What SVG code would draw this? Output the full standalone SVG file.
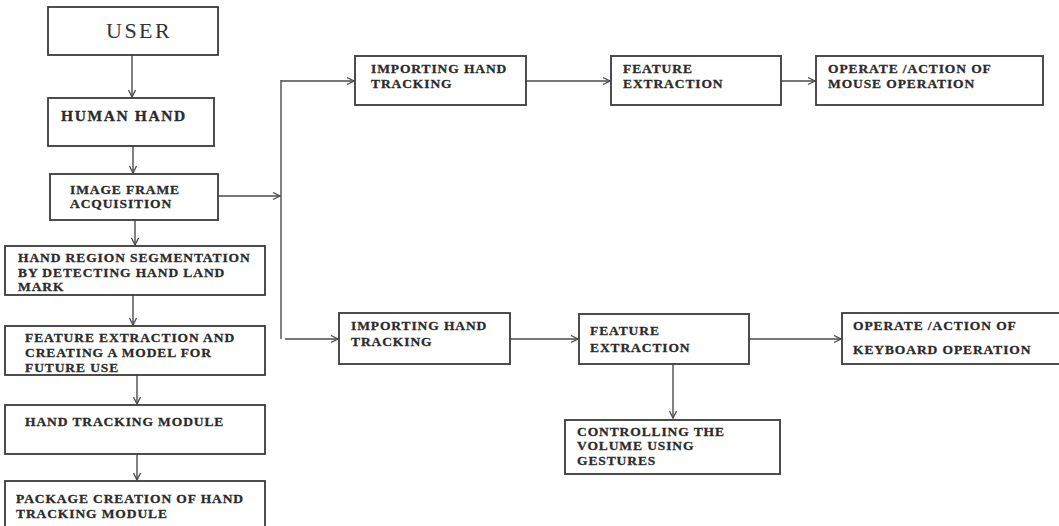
<svg xmlns="http://www.w3.org/2000/svg" width="1059" height="526" viewBox="0 0 1059 526">
<style>
.box{fill:#fff;stroke:#3a3a3a;stroke-width:1.8}
.t{font-family:"Liberation Serif","Times New Roman",serif;font-weight:bold;font-size:13.5px;letter-spacing:0.9px;fill:#2b2b2b;stroke:#2b2b2b;stroke-width:0.3}
.ln{fill:none;stroke:#4a4a4a;stroke-width:1.4}
</style>
<defs>
<marker id="ah" markerUnits="userSpaceOnUse" markerWidth="10" markerHeight="10" refX="8" refY="4" orient="auto">
<path d="M1,0.5 L8,4 L1,7.5" fill="none" stroke="#4a4a4a" stroke-width="1.3"/>
</marker>
</defs>
<rect width="1059" height="526" fill="#fff"/>
<g id="connectors">
<line class="ln" x1="132" y1="55" x2="132" y2="97" marker-end="url(#ah)"/>
<line class="ln" x1="133" y1="146" x2="133" y2="173" marker-end="url(#ah)"/>
<line class="ln" x1="135" y1="220" x2="135" y2="245" marker-end="url(#ah)"/>
<line class="ln" x1="133" y1="295" x2="133" y2="325" marker-end="url(#ah)"/>
<line class="ln" x1="137" y1="375" x2="137" y2="404" marker-end="url(#ah)"/>
<line class="ln" x1="137" y1="454" x2="137" y2="480" marker-end="url(#ah)"/>
<line class="ln" x1="218" y1="196" x2="280" y2="196" marker-end="url(#ah)"/>
<line class="ln" x1="281" y1="80" x2="281" y2="339"/>
<line class="ln" x1="281" y1="81" x2="354" y2="81" marker-end="url(#ah)"/>
<line class="ln" x1="285" y1="339" x2="338" y2="339" marker-end="url(#ah)"/>
<line class="ln" x1="526" y1="81" x2="610" y2="81" marker-end="url(#ah)"/>
<line class="ln" x1="781" y1="81" x2="815" y2="81" marker-end="url(#ah)"/>
<line class="ln" x1="510" y1="339" x2="578" y2="339" marker-end="url(#ah)"/>
<line class="ln" x1="749" y1="339" x2="841" y2="339" marker-end="url(#ah)"/>
<line class="ln" x1="673" y1="364" x2="673" y2="418" marker-end="url(#ah)"/>
</g>
<g id="user">
<rect class="box" x="48" y="7" width="170" height="48"/>
<text x="106" y="38" style="font-family:'Liberation Serif','Times New Roman',serif;font-size:22px;letter-spacing:2.5px;fill:#333">USER</text>
</g>
<g id="human-hand">
<rect class="box" x="48" y="98" width="166" height="48"/>
<text class="t" x="61" y="121" style="font-size:15.5px;letter-spacing:1.6px">HUMAN HAND</text>
</g>
<g id="image-frame">
<rect class="box" x="50" y="174" width="168" height="46"/>
<text class="t" x="70" y="194">IMAGE FRAME</text>
<text class="t" x="70" y="208">ACQUISITION</text>
</g>
<g id="hand-region">
<rect class="box" x="5" y="246" width="260" height="49"/>
<text class="t" x="18" y="262">HAND REGION SEGMENTATION</text>
<text class="t" x="18" y="277">BY DETECTING HAND LAND</text>
<text class="t" x="18" y="291">MARK</text>
</g>
<g id="feature-model">
<rect class="box" x="5" y="326" width="260" height="49"/>
<text class="t" x="25" y="342">FEATURE EXTRACTION AND</text>
<text class="t" x="25" y="357">CREATING A MODEL FOR</text>
<text class="t" x="25" y="372">FUTURE USE</text>
</g>
<g id="hand-tracking-module">
<rect class="box" x="5" y="405" width="260" height="49"/>
<text class="t" x="25" y="426">HAND TRACKING MODULE</text>
</g>
<g id="package">
<rect class="box" x="5" y="481" width="260" height="60"/>
<text class="t" x="16" y="503">PACKAGE CREATION OF HAND</text>
<text class="t" x="16" y="518">TRACKING MODULE</text>
</g>
<g id="importing-top">
<rect class="box" x="355" y="56" width="171" height="49"/>
<text class="t" x="371" y="73">IMPORTING HAND</text>
<text class="t" x="371" y="88">TRACKING</text>
</g>
<g id="feature-top">
<rect class="box" x="611" y="56" width="170" height="49"/>
<text class="t" x="623" y="73">FEATURE</text>
<text class="t" x="623" y="88">EXTRACTION</text>
</g>
<g id="operate-mouse">
<rect class="box" x="816" y="56" width="227" height="49"/>
<text class="t" x="828" y="73">OPERATE /ACTION OF</text>
<text class="t" x="828" y="88">MOUSE OPERATION</text>
</g>
<g id="importing-bottom">
<rect class="box" x="339" y="313" width="171" height="51"/>
<text class="t" x="351" y="330">IMPORTING HAND</text>
<text class="t" x="351" y="346">TRACKING</text>
</g>
<g id="feature-bottom">
<rect class="box" x="579" y="314" width="170" height="50"/>
<text class="t" x="590" y="335">FEATURE</text>
<text class="t" x="590" y="352">EXTRACTION</text>
</g>
<g id="operate-keyboard">
<rect class="box" x="842" y="313" width="230" height="51"/>
<text class="t" x="853" y="330">OPERATE /ACTION OF</text>
<text class="t" x="853" y="354">KEYBOARD OPERATION</text>
</g>
<g id="controlling-volume">
<rect class="box" x="565" y="420" width="215" height="54"/>
<text class="t" x="577" y="436">CONTROLLING THE</text>
<text class="t" x="577" y="450">VOLUME USING</text>
<text class="t" x="577" y="465">GESTURES</text>
</g>
</svg>
